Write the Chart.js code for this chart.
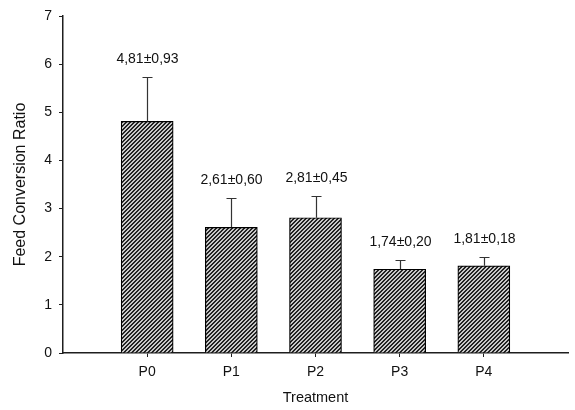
<!DOCTYPE html>
<html>
<head>
<meta charset="utf-8">
<script src="https://cdn.jsdelivr.net/npm/chart.js@4"></script>
<style>
  html, body { margin: 0; padding: 0; background: #fff; }
  #wrap { width: 575px; height: 410px; }
</style>
</head>
<body>
<div id="wrap"><canvas id="fcr"></canvas></div>
<script>
// Treatments and their feed conversion ratio (mean and SD)
const categories = ['P0', 'P1', 'P2', 'P3', 'P4'];
const means = [4.81, 2.61, 2.81, 1.74, 1.81];
const errors = [0.93, 0.60, 0.45, 0.20, 0.18];
const valueLabels = ['4,81±0,93', '2,61±0,60', '2,81±0,45', '1,74±0,20', '1,81±0,18'];
const yTicks = [0, 1, 2, 3, 4, 5, 6, 7];

const FONT = "Arial, 'Liberation Sans', sans-serif";
const INK = '#1e1e1e';

// Empty slots either side so the axis runs one category past each end
const labels = [''].concat(categories, ['']);
const barData = [null].concat(means, [null]);

// Hatch fill: grey ground with dark "/" stripes
function hatch() {
    const c = document.createElement('canvas');
    c.width = 4; c.height = 4;
    const g = c.getContext('2d');
    g.fillStyle = '#c8c8c8';
    g.fillRect(0, 0, 4, 4);
    g.fillStyle = '#222';
    for (let i = 0; i < 4; i++) {
        g.fillRect(i, 3 - i, 1, 1);
        g.fillRect(i, (4 - i) % 4, 1, 1);
    }
    return g.createPattern(c, 'repeat');
}

// Draw upper error bars and the mean±SD text above them
const errorBars = {
    id: 'errorBars',
    afterDatasetsDraw(chart) {
        const ctx = chart.ctx;
        const meta = chart.getDatasetMeta(0);
        const y = chart.scales.y;
        ctx.save();
        ctx.strokeStyle = '#333';
        ctx.lineWidth = 1.2;
        ctx.fillStyle = '#111';
        ctx.font = '14px ' + FONT;
        ctx.textAlign = 'center';
        ctx.textBaseline = 'middle';
        means.forEach((m, i) => {
            const bar = meta.data[i + 1];
            const x = Math.round(bar.x) + 0.5;
            const top = y.getPixelForValue(m);
            const cap = Math.round(y.getPixelForValue(m + errors[i])) + 0.5;
            ctx.beginPath();
            ctx.moveTo(x, top);
            ctx.lineTo(x, cap);
            ctx.moveTo(x - 5, cap);
            ctx.lineTo(x + 5, cap);
            ctx.stroke();
            ctx.fillText(valueLabels[i], x, cap - 18);
        });
        ctx.restore();
    }
};

const data = {
    labels: labels,
    datasets: [{
        data: barData,
        backgroundColor: hatch(),
        borderColor: '#000',
        borderWidth: 1.2,
        barThickness: 52
    }]
};

const config = {
    type: 'bar',
    data: data,
    plugins: [errorBars],
    options: {
        responsive: true,
        maintainAspectRatio: false,
        animation: false,
        layout: { padding: { top: 16, right: 1, left: 0, bottom: 0 } },
        plugins: {
            legend: { display: false },
            tooltip: { enabled: false }
        },
        scales: {
            x: {
                offset: false,
                afterFit: s => { s.height = 57; },
                grid: {
                    offset: false,
                    drawOnChartArea: false,
                    tickLength: 4,
                    tickColor: c => (c.tick && c.tick.label === '') ? 'rgba(0,0,0,0)' : INK
                },
                border: { color: INK, width: 1.5 },
                ticks: {
                    color: '#111',
                    font: { family: FONT, size: 14 },
                    padding: 7,
                    maxRotation: 0,
                    autoSkip: false
                },
                title: {
                    display: true,
                    text: 'Treatment',
                    color: '#111',
                    font: { family: FONT, size: 14.5 },
                    padding: { top: 4, bottom: 3.5 }
                }
            },
            y: {
                min: 0,
                max: 7,
                afterFit: s => { s.width = 63; },
                afterBuildTicks: s => { s.ticks = yTicks.map(v => ({ value: v })); },
                grid: {
                    drawOnChartArea: false,
                    tickLength: 4,
                    tickColor: INK
                },
                border: { color: INK, width: 1.5 },
                ticks: {
                    color: '#111',
                    font: { family: FONT, size: 14 },
                    padding: 7
                },
                title: {
                    display: true,
                    text: 'Feed Conversion Ratio',
                    color: '#111',
                    font: { family: FONT, size: 16 },
                    padding: { top: 11, bottom: 4 }
                }
            }
        }
    }
};

new Chart(document.getElementById('fcr'), config);
</script>
</body>
</html>
